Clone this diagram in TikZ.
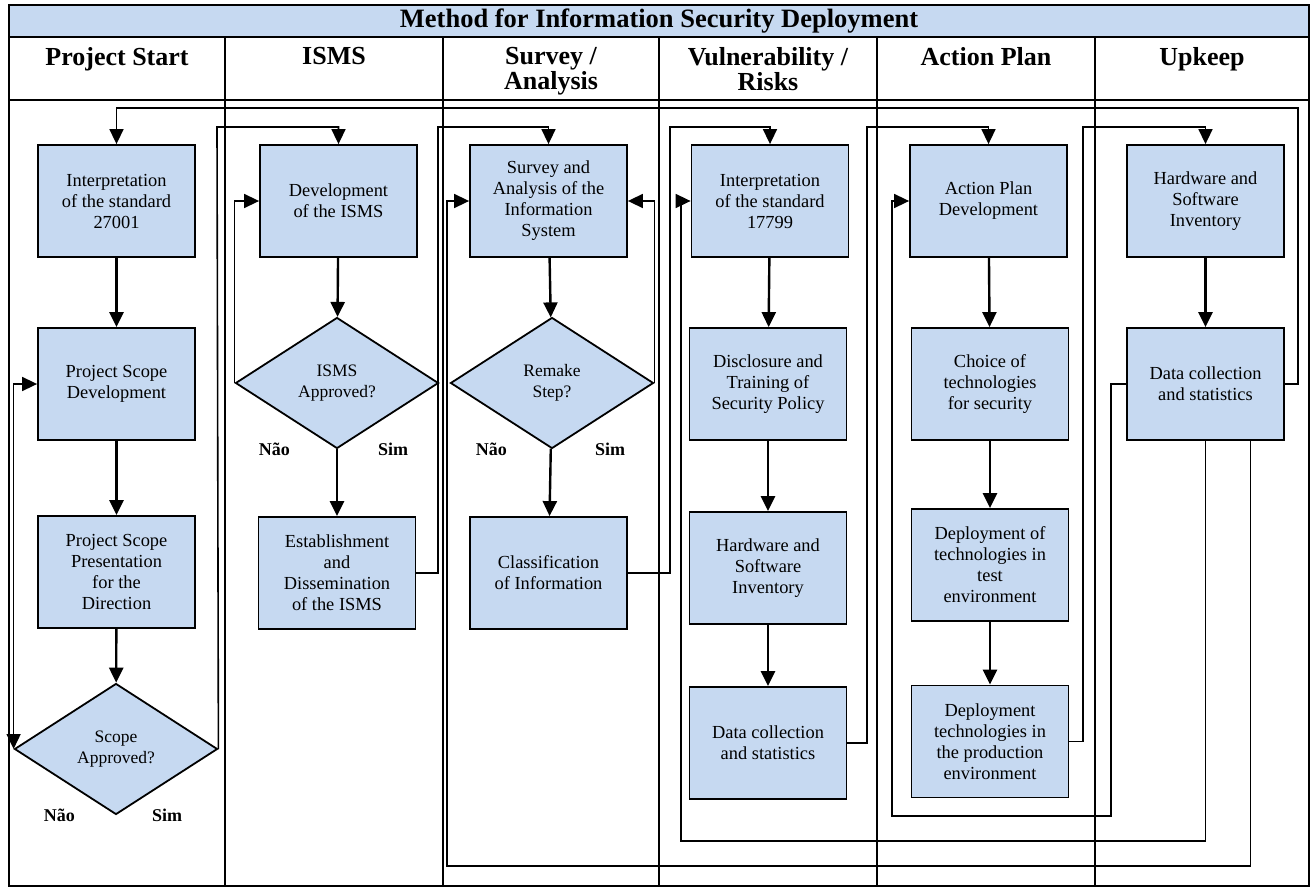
\documentclass[tikz,border=0pt]{standalone}
\usepackage{fontspec}
\setmainfont{Liberation Serif}
\usetikzlibrary{shapes.geometric, arrows.meta, positioning}
\definecolor{boxblue}{HTML}{C6D9F1}

\begin{document}
\begin{tikzpicture}[x=1pt, y=-1pt,
    task/.style={rectangle, draw=black, line width=1.8pt, fill=boxblue, minimum width=157pt, minimum height=112pt, inner sep=0pt, align=center, font=\fontsize{18.4}{21}\selectfont},
    decision/.style={diamond, draw=black, line width=1.8pt, fill=boxblue, minimum width=203pt, minimum height=131pt, inner sep=0pt, align=center, font=\fontsize{17.5}{20.5}\selectfont},
    flow/.style={line width=2.4pt, -{Triangle[width=14pt,length=15pt]}},
    feedback/.style={line width=1.6pt, -{Triangle[width=14pt,length=15pt]}},
    lane/.style={line width=2.4pt},
    lanehead/.style={anchor=north, inner sep=0pt, align=center, font=\bfseries\fontsize{26}{25}\selectfont},
    answer/.style={inner sep=0pt, font=\bfseries\fontsize{18}{20}\selectfont}
]
\useasboundingbox (0,0) rectangle (1311,888);

% Swimlane frame
\fill[boxblue] (9,5) rectangle (1309,37);
\draw[lane] (9,5) rectangle (1309,886);
\draw[lane] (9,37) -- (1309,37);
\draw[lane] (9,100) -- (1309,100);
\foreach \x in {225,443,659,877,1095}
    \draw[lane] (\x,37) -- (\x,886);

\node[font=\bfseries\fontsize{26.5}{28}\selectfont] (title) at (659,21) {Method for Information Security Deployment};
\node[lanehead] (start-head) at (117,47) {Project Start};
\node[lanehead] (isms-head) at (334,47) {ISMS};
\node[lanehead] (survey-head) at (551,47) {Survey /\\Analysis};
\node[lanehead] (risk-head) at (768,47) {Vulnerability /\\Risks};
\node[lanehead] (plan-head) at (986,47) {Action Plan};
\node[lanehead] (upkeep-head) at (1202,47) {Upkeep};

% Project Start lane
\node[task] (interp27001) at (116.5,201) {Interpretation\\of the standard\\27001};
\node[task] (scopedev) at (116.5,384) {Project Scope\\Development};
\node[task] (scopepres) at (116.5,572) {Project Scope\\Presentation\\for the\\Direction};
\node[decision] (scopeok) at (116,749) {Scope\\Approved?};
\node[answer, left=41pt of scopeok.south] (scope-no) {Não};
\node[answer, right=36pt of scopeok.south] (scope-yes) {Sim};

% ISMS lane
\node[task] (ismsdev) at (338.5,201) {Development\\of the ISMS};
\node[decision] (ismsok) at (337,383) {ISMS\\Approved?};
\node[task] (ismsest) at (337,573) {Establishment\\and\\Dissemination\\of the ISMS};
\node[answer, left=47pt of ismsok.south] (isms-no) {Não};
\node[answer, right=41pt of ismsok.south] (isms-yes) {Sim};

% Survey / Analysis lane
\node[task] (survey) at (548.5,201) {Survey and\\Analysis of the\\Information\\System};
\node[decision] (remake) at (552,383) {Remake\\Step?};
\node[task] (classif) at (548.5,573) {Classification\\of Information};
\node[answer, left=45pt of remake.south] (remake-no) {Não};
\node[answer, right=43pt of remake.south] (remake-yes) {Sim};

% Vulnerability / Risks lane
\node[task] (interp17799) at (770,201) {Interpretation\\of the standard\\17799};
\node[task] (policy) at (768,384) {Disclosure and\\Training of\\Security Policy};
\node[task] (inventory) at (768,568) {Hardware and\\Software\\Inventory};
\node[task] (stats) at (768,743) {Data collection\\and statistics};

% Action Plan lane
\node[task] (plandev) at (988.5,201) {Action Plan\\Development};
\node[task] (choice) at (990,384) {Choice of\\technologies\\for security};
\node[task] (deptest) at (990,565) {Deployment of\\technologies in\\test\\environment};
\node[task] (depprod) at (990,741.5) {Deployment\\technologies in\\the production\\environment};

% Upkeep lane
\node[task] (upinventory) at (1205.5,201) {Hardware and\\Software\\Inventory};
\node[task] (upstats) at (1205.5,384) {Data collection\\and statistics};

% Steps inside each lane
\draw[flow] (interp27001) -- (scopedev);
\draw[flow] (scopedev) -- (scopepres);
\draw[flow] (scopepres) -- (scopeok);
\draw[flow] (ismsdev) -- (ismsok);
\draw[flow] (ismsok) -- (ismsest);
\draw[flow] (survey) -- (remake);
\draw[flow] (remake) -- (classif);
\draw[flow] (interp17799) -- (policy);
\draw[flow] (policy) -- (inventory);
\draw[flow] (inventory) -- (stats);
\draw[flow] (plandev) -- (choice);
\draw[flow] (choice) -- (deptest);
\draw[flow] (deptest) -- (depprod);
\draw[flow] (upinventory) -- (upstats);

% Returns and hand-overs between lanes
\draw[feedback, {Triangle[width=14pt,length=15pt]}-{Triangle[width=14pt,length=15pt]}] (scopeok.west) |- (scopedev.west);
\draw[feedback] (scopeok.east) -- (217,127) -| (ismsdev.north);
\draw[feedback] (ismsok.west) |- (ismsdev.west);
\draw[feedback] (ismsest.east) -| (438,127) -| (survey.north);
\draw[feedback] (remake.east) |- (survey.east);
\draw[feedback] (classif.east) -| (670,127) -| (interp17799.north);
\draw[feedback] (stats.east) -| (867,127) -| (plandev.north);
\draw[feedback] (depprod.east) -| (1083,127) -| (upinventory.north);
\draw[feedback] (upstats.east) -| (1298,108) -| (interp27001.north);
\draw[feedback] (upstats.west) -| (1111,816) -- (892,816) |- (plandev.west);
\draw[feedback] (upstats.south) |- (681,841) |- (interp17799.west);
\draw[feedback] ([xshift=45pt]upstats.south) |- (447,866) |- (survey.west);

\end{tikzpicture}
\end{document}
